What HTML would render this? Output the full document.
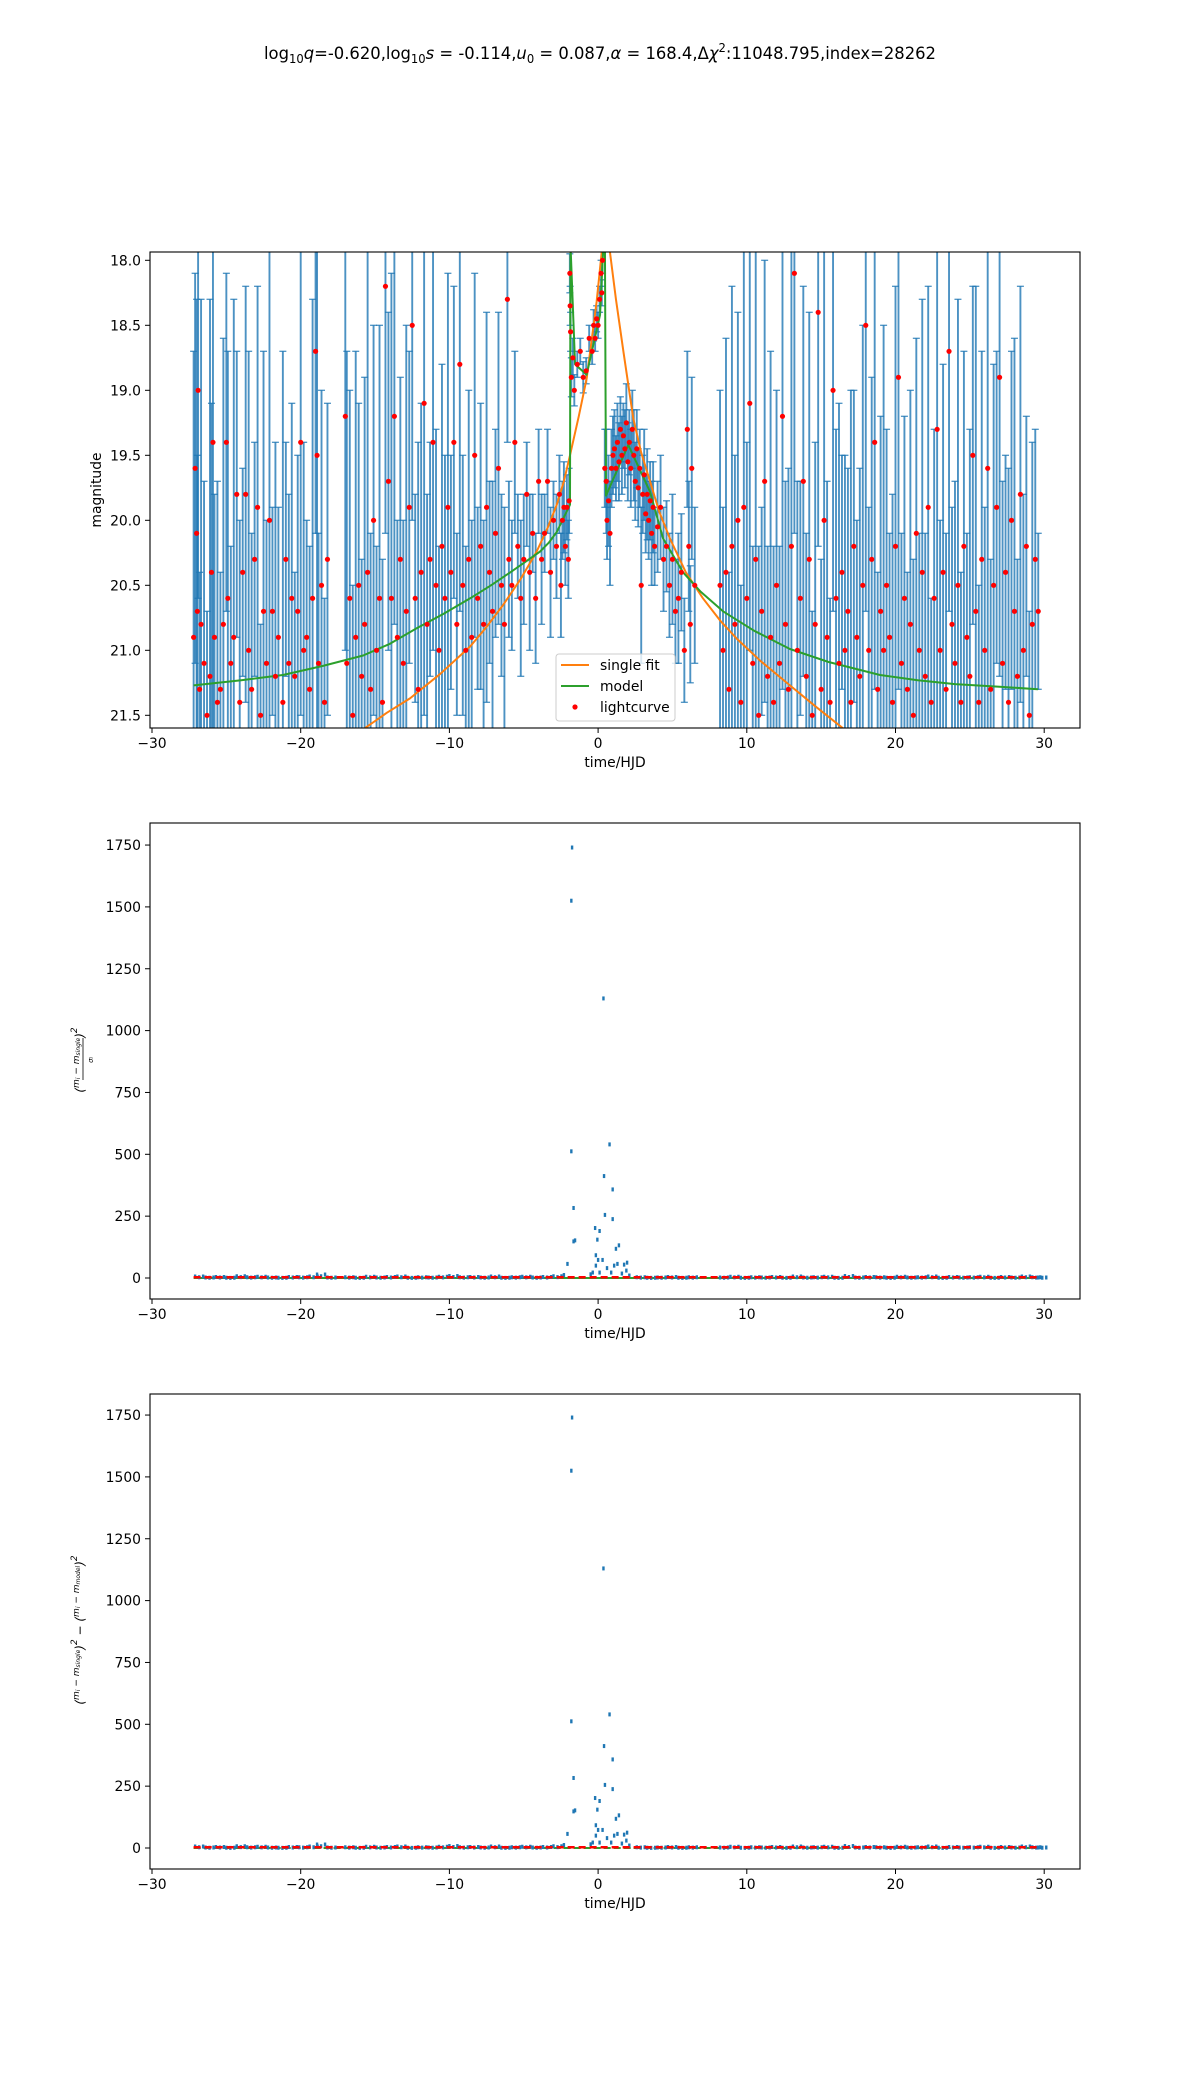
<!DOCTYPE html>
<html><head><meta charset="utf-8">
<style>
html,body{margin:0;padding:0;background:#fff;}
svg{display:block;font-family:"DejaVu Sans","Liberation Sans",sans-serif;}
</style></head>
<body>
<svg id="fig" width="1200" height="2100" viewBox="0 0 1200 2100" xmlns="http://www.w3.org/2000/svg">
<defs>
<clipPath id="c1"><rect x="150" y="252" width="930" height="476"/></clipPath>
<clipPath id="c2"><rect x="150" y="823" width="930" height="476"/></clipPath>
<clipPath id="c3"><rect x="150" y="1394" width="930" height="475"/></clipPath>
</defs>
<text x="600" y="59" text-anchor="middle" font-size="17" textLength="672" lengthAdjust="spacingAndGlyphs">log<tspan font-size="12" dy="4">10</tspan><tspan dy="-4" font-style="italic">q</tspan>=-0.620,log<tspan font-size="12" dy="4">10</tspan><tspan dy="-4" font-style="italic">s</tspan> = -0.114,<tspan font-style="italic">u</tspan><tspan font-size="12" dy="4">0</tspan><tspan dy="-4"> = 0.087,</tspan><tspan font-style="italic">α</tspan> = 168.4,Δ<tspan font-style="italic">χ</tspan><tspan font-size="12" dy="-7">2</tspan><tspan dy="7">:11048.795,index=28262</tspan></text>
<g id="p1"></g>
<g id="p2"></g>
<g id="p3"></g>
</svg>
<script>
const xTicks = [-30, -20, -10, 0, 10, 20, 30];
const magTicks = [18.0, 18.5, 19.0, 19.5, 20.0, 20.5, 21.0, 21.5];
const chiTicks = [0, 250, 500, 750, 1000, 1250, 1500, 1750];

const lcT = [-27.2,-27.1,-27.0,-26.95,-26.9,-26.8,-26.7,-26.5,-26.3,-26.1,-26.0,-25.9,-25.8,-25.6,-25.4,-25.2,-25.0,-24.9,-24.7,-24.5,-24.3,-24.1,-23.9,-23.7,-23.5,-23.3,-23.1,-22.9,-22.7,-22.5,-22.3,-22.1,-21.9,-21.7,-21.5,-21.2,-21.0,-20.8,-20.6,-20.4,-20.2,-20.0,-19.8,-19.6,-19.4,-19.2,-19.0,-18.9,-18.8,-18.6,-18.4,-18.2,-17.0,-16.9,-16.7,-16.5,-16.3,-16.1,-15.9,-15.7,-15.5,-15.3,-15.1,-14.9,-14.7,-14.5,-14.3,-14.1,-13.9,-13.7,-13.5,-13.3,-13.1,-12.9,-12.7,-12.5,-12.3,-12.1,-11.9,-11.7,-11.5,-11.3,-11.1,-10.9,-10.7,-10.5,-10.3,-10.1,-9.9,-9.7,-9.5,-9.3,-9.1,-8.9,-8.7,-8.5,-8.3,-8.1,-7.9,-7.7,-7.5,-7.3,-7.1,-6.9,-6.7,-6.5,-6.3,-6.1,-6.0,
-5.8,-5.6,-5.4,-5.2,-5.0,-4.8,-4.6,-4.4,-4.2,-4.0,-3.8,-3.6,-3.4,-3.2,-3.0,-2.8,-2.6,-2.5,-2.4,-2.3,-2.2,-2.1,-2.0,-1.95,
-1.9,-1.88,-1.85,-1.8,-1.7,-1.6,-1.4,-1.2,-1.0,-0.8,-0.6,-0.4,-0.3,-0.2,-0.1,0.0,0.1,0.2,0.25,0.3,
0.45,0.55,0.6,0.7,0.8,0.9,1.0,1.1,1.2,1.3,1.4,1.5,1.6,1.7,1.8,1.9,2.0,2.1,2.2,2.3,2.4,2.5,2.6,2.7,2.8,2.9,3.0,3.1,3.2,3.3,3.4,3.5,3.6,3.7,3.8,4.0,4.2,4.4,4.6,4.8,5.0,5.2,5.4,5.6,5.8,6.0,6.1,6.2,6.3,6.5,
8.2,8.4,8.6,8.8,9.0,9.2,9.4,9.6,9.8,10.0,10.2,10.4,10.6,10.8,11.0,11.2,11.4,11.6,11.8,12.0,12.2,12.4,12.6,12.8,13.0,13.2,13.4,13.6,13.8,14.0,14.2,14.4,14.6,14.8,15.0,15.2,15.4,15.6,15.8,16.0,16.2,16.4,16.6,16.8,17.0,17.2,17.4,17.6,17.8,18.0,18.2,18.4,18.6,18.8,19.0,19.2,19.4,19.6,19.8,20.0,20.2,20.4,20.6,20.8,21.0,21.2,21.4,21.6,21.8,22.0,22.2,22.4,22.6,22.8,23.0,23.2,23.4,23.6,23.8,24.0,24.2,24.4,24.6,24.8,25.0,25.2,25.4,25.6,25.8,26.0,26.2,26.4,26.6,26.8,27.0,27.2,27.4,27.6,27.8,28.0,28.2,28.4,28.6,28.8,29.0,29.2,29.4,29.6];
const lcM = [20.9,19.6,20.1,20.7,19.0,21.3,20.8,21.1,21.5,21.2,20.4,19.4,20.9,21.4,21.3,20.8,19.4,20.6,21.1,20.9,19.8,21.4,20.4,19.8,21.0,21.3,20.3,19.9,21.5,20.7,21.1,20.0,20.7,21.2,20.9,21.4,20.3,21.1,20.6,21.2,20.7,19.4,21.0,20.9,21.3,20.6,18.7,19.5,21.1,20.5,21.4,20.3,19.2,21.1,20.6,21.5,20.9,20.5,21.2,20.8,20.4,21.3,20.0,21.0,20.6,21.4,18.2,19.7,20.6,19.2,20.9,20.3,21.1,20.7,19.9,18.5,20.6,21.3,20.4,19.1,20.8,20.3,19.4,20.5,21.0,20.2,20.6,19.9,20.4,19.4,20.8,18.8,20.5,21.0,20.3,20.9,19.5,20.6,20.2,20.8,19.9,20.4,20.7,20.1,19.6,20.5,20.8,18.3,20.3,
20.5,19.4,20.2,20.6,20.3,19.8,20.4,20.1,20.6,19.7,20.3,20.1,19.7,20.4,20.0,20.2,19.8,20.5,20.0,19.9,20.2,19.9,20.3,19.85,
18.1,18.35,18.55,18.9,18.75,19.0,18.8,18.7,18.9,18.85,18.6,18.7,18.5,18.6,18.45,18.5,18.3,18.1,18.25,18.0,
19.6,19.7,20.0,19.85,20.1,19.6,19.5,19.45,19.6,19.4,19.55,19.3,19.5,19.35,19.45,19.25,19.55,19.4,19.6,19.3,19.5,19.7,19.45,19.75,19.6,20.5,19.8,19.65,19.95,19.8,20.0,19.85,20.1,19.9,20.2,20.05,19.9,20.3,20.2,20.5,20.3,20.7,20.6,20.4,21.0,19.3,20.2,20.8,19.6,20.5,
20.5,21.0,20.4,21.3,20.2,20.8,20.0,21.4,19.9,20.6,19.1,21.1,20.3,21.5,20.7,19.7,21.2,20.9,21.4,20.5,21.1,19.2,20.8,21.3,20.2,18.1,21.0,20.6,19.7,21.2,20.3,21.5,20.8,18.4,21.3,20.0,20.9,21.4,19.0,20.6,21.1,20.4,21.0,20.7,21.4,20.2,20.9,21.2,20.5,18.5,21.0,20.3,19.4,21.3,20.7,21.0,20.5,20.9,21.4,20.2,18.9,21.1,20.6,21.3,20.8,21.5,20.1,21.0,20.4,21.2,19.9,21.4,20.6,19.3,21.0,20.4,21.3,18.7,20.8,21.1,20.5,21.4,20.2,20.9,21.2,19.5,20.7,21.4,20.3,21.0,19.6,21.3,20.5,19.9,18.9,21.1,20.4,21.4,20.0,20.7,21.2,19.8,21.0,20.2,21.5,20.8,20.3,20.7];
const lcE = [2.2,1.5,1.8,1.2,1.6,0.9,2.5,1.4,0.8,2.9,1.3,2.4,1.1,1.7,0.9,2.2,1.3,1.9,0.9,2.6,1.1,1.4,0.8,1.6,2.3,1.2,0.9,1.7,0.7,2.0,1.1,2.4,0.8,1.8,1.0,2.7,0.9,1.3,1.5,0.8,1.2,2.1,1.6,0.9,1.1,2.3,1.4,2.6,1.0,1.5,0.8,1.2,1.8,2.4,1.6,1.0,2.2,1.4,0.9,1.9,2.7,1.2,1.5,0.8,2.1,1.1,1.9,1.3,2.5,1.6,0.9,1.4,1.1,2.2,1.2,1.5,0.8,1.9,1.3,2.4,1.0,0.9,1.6,1.2,0.8,1.4,1.1,1.8,0.9,1.2,0.7,1.9,1.0,0.8,1.3,0.9,1.4,0.7,1.1,0.8,1.5,0.7,1.0,0.8,1.2,0.7,0.9,1.1,0.6,
0.5,0.7,0.4,0.6,0.5,0.4,0.6,0.3,0.5,0.4,0.5,0.3,0.4,0.5,0.3,0.4,0.3,0.4,0.3,0.35,0.3,0.25,0.3,0.25,
0.15,0.15,0.15,0.15,0.15,0.12,0.1,0.1,0.12,0.1,0.1,0.1,0.12,0.1,0.1,0.1,0.1,0.1,0.1,0.1,
0.3,0.4,0.3,0.35,0.4,0.3,0.3,0.3,0.25,0.3,0.3,0.25,0.3,0.25,0.3,0.3,0.3,0.25,0.3,0.3,0.35,0.3,0.3,0.3,0.3,0.6,0.3,0.35,0.3,0.35,0.3,0.3,0.4,0.35,0.3,0.35,0.4,0.4,0.35,0.4,0.5,0.4,0.5,0.45,0.4,0.6,0.5,0.45,0.7,0.6,
1.5,1.1,1.8,0.9,2.0,1.3,1.6,0.9,2.4,1.2,1.9,0.9,2.6,1.3,0.8,1.7,1.0,2.2,1.2,1.5,0.9,2.1,1.1,1.7,2.6,2.0,1.3,0.9,1.5,1.1,1.9,0.8,1.4,1.8,1.0,2.3,1.2,0.8,1.7,1.3,2.0,0.9,1.5,1.1,2.4,1.2,0.9,1.6,2.0,2.2,1.1,1.4,1.9,0.9,1.5,2.5,1.2,0.8,1.6,2.0,2.4,1.0,1.4,0.9,1.8,1.2,1.5,0.9,2.1,1.1,1.7,0.8,1.3,2.3,1.0,1.6,1.2,2.0,0.9,1.4,2.2,1.0,1.5,0.8,1.9,1.3,2.5,0.9,1.6,1.1,2.4,1.0,1.7,1.2,2.3,1.4,0.9,1.8,1.3,2.1,0.9,1.6,1.2,1.0,0.8,1.4,1.0,0.6];

const modelT = [-27.2,-24,-21.2,-18.5,-15.8,-14,-12.2,-10.4,-8.6,-7.2,-5.9,-4.9,-3.9,-3.3,-2.78,-1.89,-1.87,-1.85,-1.55,-0.77,0.13,0.35,0.46,0.53,2.03,3.49,4.37,5.71,6.9,8.4,10.5,12.9,15.5,18.96,21.5,24.0,27,29.58];
const modelM = [21.27,21.23,21.19,21.12,21.04,20.95,20.83,20.72,20.6,20.5,20.4,20.32,20.24,20.17,20.09,19.88,18.6,17.9,18.8,18.88,18.42,17.9,17.9,19.81,19.42,19.78,20.14,20.4,20.55,20.7,20.85,20.99,21.09,21.19,21.23,21.26,21.28,21.3];
const singleT = [-15.7,-14.2,-12.65,-10.6,-8.6,-7.5,-6.38,-5.2,-4.13,-3.4,-2.78,-2.3,-1.89,-1.3,-0.77,-0.1,0.24,0.4,0.8,1.2,1.7,2.37,2.9,3.49,4.1,4.83,5.9,7.05,8.2,9.32,10.9,12.9,14.6,16.47];
const singleM = [21.6,21.48,21.37,21.18,20.97,20.82,20.65,20.45,20.24,20.06,19.88,19.7,19.5,19.2,18.91,18.32,17.94,17.8,17.94,18.3,18.7,19.22,19.48,19.7,19.93,20.14,20.4,20.6,20.77,20.91,21.08,21.27,21.43,21.6];

const outT = [-1.75,-1.8,0.36,-1.8,0.77,0.4,0.98,-1.65,0.46,0.98,-0.2,0.1,-0.05,-1.55,-1.65,1.4,1.2,-0.15,0.0,0.3,1.95,-2.06,1.3,-0.15,1.08,1.75,-0.36,0.1,0.88,1.9,-2.3,1.6,0.6,-0.5,2.1];
const outV = [1740,1525,1130,512,540,412,358,283,255,238,202,190,155,152,148,132,118,92,73,73,62,57,57,50,50,54,22,22,22,30,12,18,40,15,10];
const baseT = [-27.1,-26.4,-25.7,-25.0,-24.3,-23.6,-22.9,-22.2,-21.5,-20.8,-20.1,-19.4,-18.9,-18.2,-17.0,-16.3,-15.6,-14.9,-14.2,-13.5,-12.8,-12.1,-11.4,-10.7,-10.0,-9.3,-8.6,-7.9,-7.2,-6.5,-5.8,-5.1,-4.4,-3.7,-3.0,2.6,3.3,4.0,4.7,5.4,6.1,8.2,8.9,9.6,10.3,11.0,11.7,12.4,13.1,13.8,14.5,15.2,15.9,16.6,17.3,18.0,18.7,19.4,20.1,20.8,21.5,22.2,22.9,23.6,24.3,25.0,25.7,26.4,27.1,27.8,28.5,29.2,29.6];
const baseV = [6,2,4,1,7,3,5,2,1,4,3,6,14,2,3,1,5,2,4,6,1,3,2,5,8,3,4,2,6,1,3,5,2,4,7,3,1,2,4,1,3,2,5,1,3,2,4,1,6,2,3,5,1,8,2,4,3,1,5,2,3,6,1,4,2,3,5,1,4,2,6,3,2];
const meanLevel = [3];

const NS = 'http://www.w3.org/2000/svg';
function mk(tag, attrs, parent){ const e=document.createElementNS(NS,tag); for(const k in attrs) e.setAttribute(k,attrs[k]); parent.appendChild(e); return e; }
const X = t => 152 + (t + 30) * 14.87;
const Y1 = m => 260.3 + (m - 18) * 130;
const Y2 = v => 1278 - v * 0.2474;
const Y3 = v => 1848 - v * 0.2474;

function axes(g, top, bottom, yTicks, Y, fmt){
  const fr = mk('rect',{x:150,y:top,width:930,height:bottom-top,fill:'none',stroke:'#000','stroke-width':1.1},g);
   
  xTicks.forEach(t=>{
    const l=mk('line',{x1:X(t),x2:X(t),y1:bottom,y2:bottom+5,stroke:'#000','stroke-width':1},g);
     
    const tx=mk('text',{x:X(t),y:bottom+20,'text-anchor':'middle','font-size':13.9},g);
     
    tx.textContent = (t<0?'\u2212'+(-t):t);
  });
  yTicks.forEach(v=>{
    const yy=Y(v);
    const l=mk('line',{x1:145,x2:150,y1:yy,y2:yy,stroke:'#000','stroke-width':1},g);
     
    const tx=mk('text',{x:141,y:yy+5,'text-anchor':'end','font-size':13.9},g);
     
    tx.textContent = fmt(v);
  });
  const xl=mk('text',{x:615,y:bottom+39,'text-anchor':'middle','font-size':13.9},g);
   
  xl.textContent='time/HJD';
}

// Panel 1
const p1=document.getElementById('p1');
const d1=mk('g',{'clip-path':'url(#c1)'},p1);
const eb=mk('g',{stroke:'#1f77b4','stroke-width':1.9,'stroke-opacity':0.8},d1);
 
for(let i=0;i<lcT.length;i++){
  const x=X(lcT[i]), y1=Y1(lcM[i]-lcE[i]), y2=Y1(lcM[i]+lcE[i]);
  const l=mk('line',{x1:x,x2:x,y1:y1,y2:y2},eb);
   
  mk('line',{x1:x-3.5,x2:x+3.5,y1:y1,y2:y1,'stroke-width':1.3},eb);
  mk('line',{x1:x-3.5,x2:x+3.5,y1:y2,y2:y2,'stroke-width':1.3},eb);
}
const sp=mk('polyline',{points:singleT.map((t,i)=>X(t)+','+Y1(singleM[i])).join(' '),fill:'none',stroke:'#ff7f0e','stroke-width':2,'stroke-linejoin':'round'},d1);
 
const mp=mk('polyline',{points:modelT.map((t,i)=>X(t)+','+Y1(modelM[i])).join(' '),fill:'none',stroke:'#2ca02c','stroke-width':2,'stroke-linejoin':'round'},d1);
 
const pts=mk('g',{fill:'#ff0000'},d1);
 
for(let i=0;i<lcT.length;i++){
  const c=mk('circle',{cx:X(lcT[i]),cy:Y1(lcM[i]),r:2.6},pts);
   
}
axes(p1,252,728,magTicks,Y1,v=>v.toFixed(1));
const yl1=mk('text',{transform:'translate(101,490) rotate(-90)','text-anchor':'middle','font-size':13.9},p1);
 
yl1.textContent='magnitude';
// legend
const lg=mk('g',{},p1);
 
mk('rect',{x:556,y:654,width:119,height:67,rx:3,fill:'#fff','fill-opacity':0.8,stroke:'#ccc'},lg);
const lgItems=[['single fit','#ff7f0e','line'],['model','#2ca02c','line'],['lightcurve','#ff0000','dot']];
lgItems.forEach((it,i)=>{
  const yy=665+i*21;
  if(it[2]==='line'){ const l=mk('line',{x1:561,x2:589,y1:yy,y2:yy,stroke:it[1],'stroke-width':2},lg);   }
  else { const c=mk('circle',{cx:575,cy:yy,r:2.6,fill:it[1]},lg);   }
  const tx=mk('text',{x:600,y:yy+5,'font-size':13.9},lg);
   
  tx.textContent=it[0];
});

function resPanel(g, clip, top, bottom, Y, withModelLines){
  const d=mk('g',{'clip-path':'url('+clip+')'},g);
  if(withModelLines){
    const o=mk('line',{x1:X(-27.2),x2:X(29.6),y1:Y(0),y2:Y(0),stroke:'#ff7f0e','stroke-width':2,'stroke-dasharray':'7,3'},d);
     
  }
  const gl=mk('line',{x1:X(-27.2),x2:X(29.6),y1:Y(0),y2:Y(0),stroke:'#2ca02c','stroke-width':2,'stroke-dasharray':withModelLines?'7,3':''},d);
   
  const sg=mk('g',{fill:'#1f77b4'},d);
   
  for(let i=0;i<baseT.length;i++){
    for(let k=0;k<3;k++){
      const r=mk('rect',{x:X(baseT[i])-1.2+k*4,y:Y(baseV[i]*(k===1?0.5:1))-2,width:2.4,height:4},sg);
       
    }
  }
  for(let i=0;i<outT.length;i++){
    const r=mk('rect',{x:X(outT[i])-1.2,y:Y(outV[i])-2,width:2.4,height:4},sg);
     
  }
  const rl=mk('line',{x1:X(-27.2),x2:X(29.6),y1:Y(meanLevel[0]),y2:Y(meanLevel[0]),stroke:'#ff0000','stroke-width':2.6,'stroke-dasharray':'7,4'},d);
   
  axes(g,top,bottom,chiTicks,Y,v=>String(v));
}
const p2=document.getElementById('p2');
resPanel(p2,'#c2',823,1299,Y2,false);
const p3=document.getElementById('p3');
resPanel(p3,'#c3',1394,1869,Y3,true);
</script>
<svg style="position:absolute;left:0;top:0" width="1200" height="2100">
<g transform="translate(84,1060) rotate(-90)" font-family="DejaVu Sans, sans-serif" font-size="12" text-anchor="middle" font-style="italic">
<text x="0" y="0">(<tspan font-size="9" dy="-5">m</tspan><tspan font-size="6" dy="1">i</tspan><tspan font-size="9" dy="-1"> − m</tspan><tspan font-size="6" dy="1">single</tspan><tspan font-size="12" dy="4">)</tspan><tspan font-size="9" dy="-7">2</tspan></text>
<line x1="-20" x2="22" y1="-1" y2="-1" stroke="#000" stroke-width="0.8"/>
<text x="0" y="9" font-size="7">σ<tspan font-size="5">i</tspan></text>
</g>
<g transform="translate(84,1630) rotate(-90)" font-family="DejaVu Sans, sans-serif" font-size="12" text-anchor="middle" font-style="italic">
<text x="0" y="0">(<tspan font-size="9" dy="-5">m</tspan><tspan font-size="6" dy="1">i</tspan><tspan font-size="9" dy="-1"> − m</tspan><tspan font-size="6" dy="1">single</tspan><tspan font-size="12" dy="4">)</tspan><tspan font-size="9" dy="-7">2</tspan><tspan font-size="12" dy="7"> − (</tspan><tspan font-size="9" dy="-5">m</tspan><tspan font-size="6" dy="1">i</tspan><tspan font-size="9" dy="-1"> − m</tspan><tspan font-size="6" dy="1">model</tspan><tspan font-size="12" dy="4">)</tspan><tspan font-size="9" dy="-7">2</tspan></text>
</g>
</svg>
</body></html>
